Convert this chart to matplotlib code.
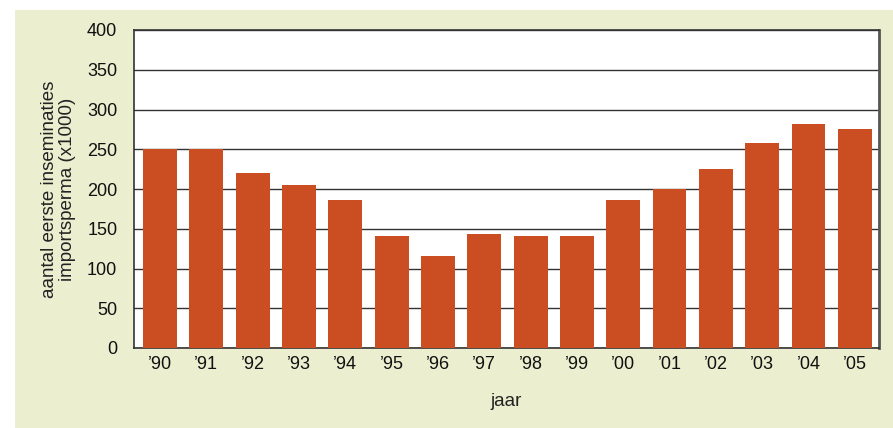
import matplotlib.pyplot as plt
from matplotlib.patches import Rectangle

plt.rcParams['font.family'] = ['Liberation Sans', 'DejaVu Sans']

# data
jaren = ['\u201990', '\u201991', '\u201992', '\u201993', '\u201994', '\u201995', '\u201996', '\u201997',
         '\u201998', '\u201999', '\u201900', '\u201901', '\u201902', '\u201903', '\u201904', '\u201905']
inseminaties = [250, 250, 220, 205, 186, 141, 116, 143, 141, 141, 186, 200, 225, 258, 282, 276]
y_ticks = [0, 50, 100, 150, 200, 250, 300, 350, 400]

bg = '#EBEFCF'
bar_color = '#CB4D22'

fig = plt.figure(figsize=(8.93, 4.28), dpi=100)
fig.patch.set_facecolor('white')
# coloured panel behind the chart
fig.add_artist(Rectangle((15 / 893, 0), 1 - 15 / 893, 1 - 10 / 428,
                         transform=fig.transFigure, facecolor=bg, edgecolor='none', zorder=-10))

ax = fig.add_axes([134 / 893, (428 - 348) / 428, (879 - 134) / 893, (348 - 30) / 428])
ax.set_facecolor('white')

x = list(range(len(jaren)))
ax.bar(x, inseminaties, width=0.73, color=bar_color, zorder=3)

ax.set_xlim(-0.56, 15.52)
ax.set_ylim(0, 400)
ax.set_yticks(y_ticks)
ax.set_xticks(x)
ax.set_xticklabels(jaren)
ax.tick_params(axis='both', length=0, labelsize=13, colors='#111111')
ax.tick_params(axis='y', pad=12)
ax.tick_params(axis='x', pad=6)

ax.yaxis.grid(True, color='#333333', linewidth=1.0, zorder=1)
ax.set_axisbelow(True)

for side in ['left', 'bottom', 'top']:
    ax.spines[side].set_color('#333333')
    ax.spines[side].set_linewidth(1.2)
ax.spines['right'].set_color('#555555')
ax.spines['right'].set_linewidth(2.0)

ax.set_ylabel('aantal eerste inseminaties\nimportsperma (x1000)', fontsize=13.5,
              color='#222222', labelpad=8, linespacing=1.05)
ax.set_xlabel('jaar', fontsize=13.5, color='#222222', labelpad=14)

plt.savefig('out.png', dpi=100, facecolor=fig.get_facecolor())
